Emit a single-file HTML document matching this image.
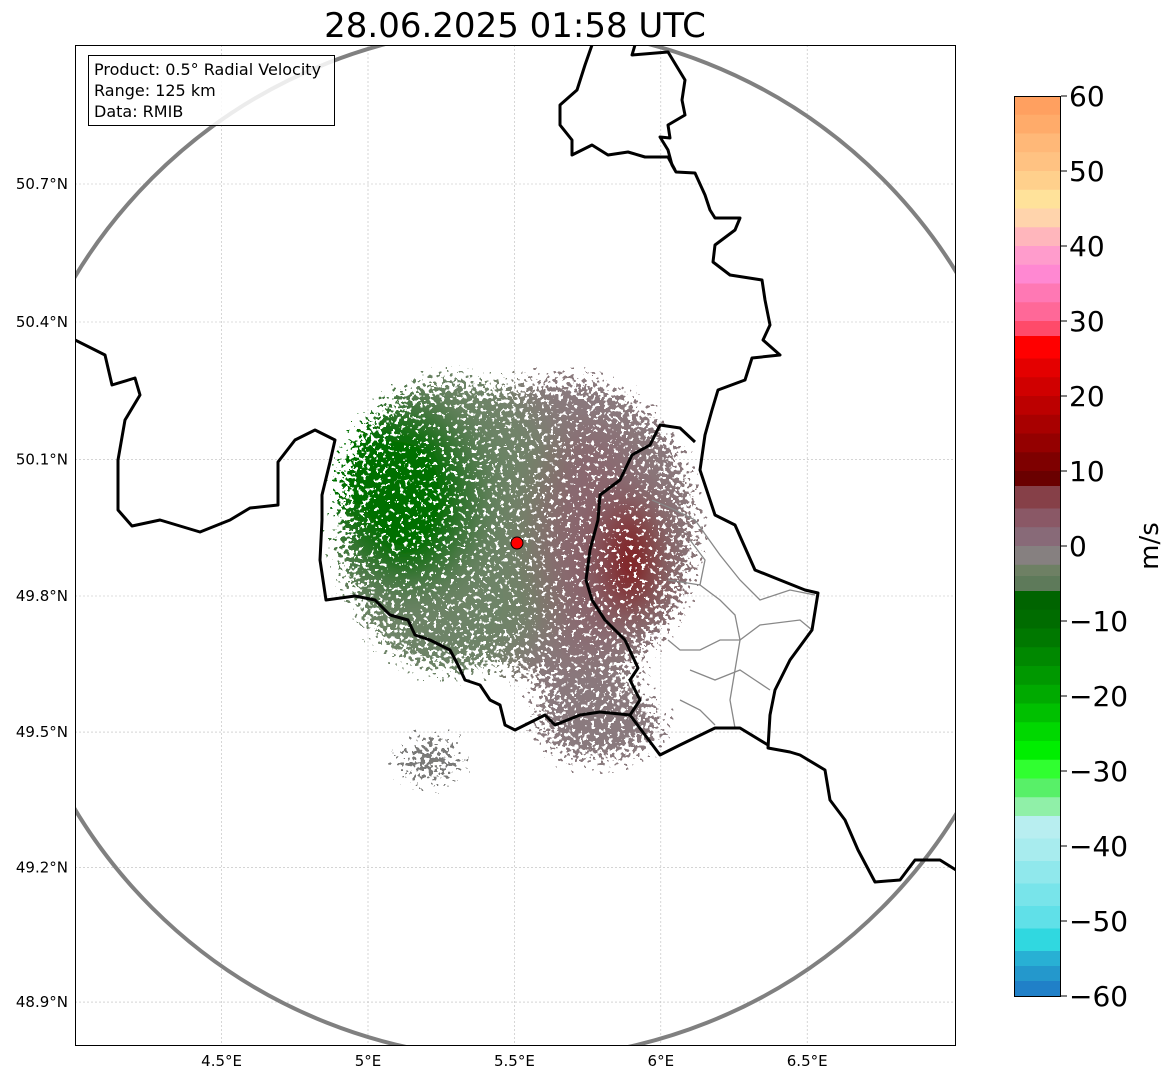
<!DOCTYPE html>
<html><head><meta charset="utf-8">
<style>
html,body{margin:0;padding:0;background:#fff;}
body{width:1171px;height:1081px;overflow:hidden;font-family:"DejaVu Sans","Liberation Sans",sans-serif;}
svg text{font-family:"DejaVu Sans","Liberation Sans",sans-serif;}
</style></head>
<body>
<svg id="chart" width="1171" height="1081" viewBox="0 0 1171 1081" xmlns="http://www.w3.org/2000/svg">
<defs>
<clipPath id="plotclip"><rect x="75" y="45" width="881" height="1001"/></clipPath>
<filter id="speck" x="-30%" y="-30%" width="160%" height="160%">
<feGaussianBlur in="SourceGraphic" stdDeviation="20" result="b"/>
<feTurbulence type="fractalNoise" baseFrequency="0.24" numOctaves="2" seed="7" result="t"/>
<feColorMatrix in="t" type="matrix" values="0 0 0 0 0  0 0 0 0 0  0 0 0 0 0  1.8 0 0 0 -0.4" result="na"/>
<feComposite in="b" in2="na" operator="arithmetic" k2="1.1" k3="-0.95" k4="0.12" result="d"/>
<feComponentTransfer in="d" result="mask"><feFuncA type="discrete" tableValues="0 1"/></feComponentTransfer>
<feComponentTransfer in="b" result="col"><feFuncA type="table" tableValues="1 1"/></feComponentTransfer>
<feComposite in="col" in2="mask" operator="in"/>
</filter>
</defs>
<text x="515" y="37" font-size="34" text-anchor="middle" fill="#000">28.06.2025 01:58 UTC</text>
<g id="grid"></g>
<g clip-path="url(#plotclip)">
<g id="echoes" filter="url(#speck)">
<ellipse cx="600" cy="725" rx="75" ry="45" fill="#8a7a7e"/>
<ellipse cx="430" cy="760" rx="45" ry="30" fill="#7a7a78"/>
<ellipse cx="565" cy="530" rx="140" ry="160" fill="#8a787c"/>
<ellipse cx="450" cy="525" rx="120" ry="155" fill="#6e8468"/>
<ellipse cx="590" cy="410" rx="55" ry="30" fill="#8a7a7e"/>
<ellipse cx="405" cy="495" rx="75" ry="95" fill="#007000"/>
<ellipse cx="590" cy="540" rx="55" ry="115" fill="#8a6870"/>
<ellipse cx="632" cy="560" rx="30" ry="60" fill="#800000"/>
</g>
<circle cx="517" cy="543" r="516" fill="none" stroke="#808080" stroke-width="4"/>
<g fill="none" stroke="#888" stroke-width="1.3">
<polyline points="652,500 675,510 695,520 720,555 740,580 760,600 790,590 815,595"/>
<polyline points="668,580 700,585 720,600 735,615 740,640 760,625 800,620 812,630"/>
<polyline points="668,640 680,650 700,650 720,640 740,640"/>
<polyline points="690,670 715,680 740,670 755,680 770,690"/>
<polyline points="680,700 700,710 715,725"/>
<polyline points="740,640 735,670 730,700 735,728"/>
<polyline points="700,585 705,560 690,540"/>
</g>
<g fill="none" stroke="#000" stroke-width="3" stroke-linejoin="round">
<polyline points="592,45 585,65 577,90 560,105 560,125 572,140 572,155 592,145 608,155 628,152 645,157 668,157 675,170"/>
<polyline points="635,45 632,55 668,52 685,80 682,100 685,115 668,125 670,138 660,137 668,150 672,165 676,172 695,173 705,195 710,210 715,218 740,218 735,230 715,245 713,262 730,275 762,280 765,300 770,325 763,340 780,355 752,358 745,380 718,390 712,410 705,435 700,470 715,515 735,525 755,570 780,580 805,590 818,593 812,630 790,660 775,690 770,715 768,748 790,752 800,755 825,770 830,800 845,820 858,850 875,882 900,880 915,860 940,860 956,870"/>
<polyline points="695,442 680,428 660,425 650,445 632,455 620,480 600,495 598,520 590,550 586,580 592,600 605,620 625,640 638,668 630,680 640,700 630,715 645,735 660,755 680,745 715,728 740,728 768,745"/>
<polyline points="630,715 600,712 580,715 555,725 545,715 515,730 505,725 500,705 490,700 480,685 465,680 458,665 450,650 430,640 415,635 408,620 390,615 375,600 355,596 326,600 320,560 322,520 322,495 330,462 335,440 315,430 295,440 278,462 278,505 250,508 230,520 200,532 160,520 132,526 118,510 118,460 125,420 140,395 135,378 112,385 105,355 75,340"/>
</g>
<circle cx="517" cy="543" r="6" fill="#ff0000" stroke="#000" stroke-width="1"/>
</g>
<rect x="75.5" y="45.5" width="880" height="1000" fill="none" stroke="#000" stroke-width="1"/>
<g>
<rect x="88.5" y="55.5" width="246" height="70" fill="#fff" fill-opacity="0.85" stroke="#000" stroke-width="1"/>
<text x="94" y="75" font-size="16">Product: 0.5° Radial Velocity</text>
<text x="94" y="96" font-size="16">Range: 125 km</text>
<text x="94" y="117" font-size="16">Data: RMIB</text>
</g>
<g id="xticks"></g>
<g id="yticks"></g>
<g id="cbar"></g>
<text transform="translate(1158,546) rotate(-90)" font-size="26" text-anchor="middle">m/s</text>
</svg>
<script>
const lonTicks=[4.5,5,5.5,6,6.5];
const lonLabels=["4.5°E","5°E","5.5°E","6°E","6.5°E"];
const latTicks=[50.7,50.4,50.1,49.8,49.5,49.2,48.9];
const latLabels=["50.7°N","50.4°N","50.1°N","49.8°N","49.5°N","49.2°N","48.9°N"];
const cbTicks=[60,50,40,30,20,10,0,-10,-20,-30,-40,-50,-60];
const cbBandTops=[60,57.5,55,52.5,50,47.5,45,42.5,40,37.5,35,32.5,30,28,25,22.5,20,17.5,15,12.5,10,8,5,2.5,0,-2.5,-4,-6,-8.5,-11,-13.5,-16,-18.5,-21,-23.5,-26,-28.5,-31,-33.5,-36,-39,-42,-45,-48,-51,-54,-56,-58];
const cbBandBottoms=[57.5,55,52.5,50,47.5,45,42.5,40,37.5,35,32.5,30,28,25,22.5,20,17.5,15,12.5,10,8,5,2.5,0,-2.5,-4,-6,-8.5,-11,-13.5,-16,-18.5,-21,-23.5,-26,-28.5,-31,-33.5,-36,-39,-42,-45,-48,-51,-54,-56,-58,-60];
const cbColors=["#ffa060","#ffab6a","#ffb878","#ffc282","#ffd08c","#ffe29a","#ffd4ac","#ffb6bc","#ff9ccc","#ff88d2","#ff78b4","#ff6898","#ff4a6a","#ff0000","#e40000","#d00000","#bc0000","#a80000","#940000","#7e0000","#6a0000","#864048","#8a5866","#886a78","#868080","#6e8064","#5e7a5a","#006400","#006c00","#007800","#008800","#009800","#00aa00","#00c000","#00d800","#00ee00","#30ff30","#58f068","#90f0a8","#b8eef0","#a8ecee","#90e8ec","#78e4ea","#60e0e8","#30d8e0","#28b0d4","#2498cc","#2080c8"];
const NS="http://www.w3.org/2000/svg";
const X0=75,X1=956,Y0=45,Y1=1046;
function xLon(l){return 368+(l-5)*292.8;}
function yLat(a){const d=a-49.8;return 596-d*454.5*(1+d*0.008);}
const CB={x:1014,w:47,top:96,bot:996,vmax:60,vmin:-60};
function yCb(v){return CB.top+(CB.vmax-v)/(CB.vmax-CB.vmin)*(CB.bot-CB.top);}
function mk(tag,attrs,parent){const e=document.createElementNS(NS,tag);for(const k in attrs)e.setAttribute(k,attrs[k]);parent.appendChild(e);return e;}
const grid=document.getElementById('grid');
const xt=document.getElementById('xticks');
const yt=document.getElementById('yticks');
lonTicks.forEach((l,i)=>{
 const x=xLon(l);
 const g=mk('line',{x1:x,x2:x,y1:Y0,y2:Y1,stroke:'#bbb','stroke-width':0.6,'stroke-dasharray':'2,2'},grid);
 
 
 const t=mk('text',{x:x,y:1066,'font-size':15,'text-anchor':'middle'},xt);
 
 
 t.textContent=lonLabels[i];
});
latTicks.forEach((a,i)=>{
 const y=yLat(a);
 const g=mk('line',{x1:X0,x2:X1,y1:y,y2:y,stroke:'#bbb','stroke-width':0.6,'stroke-dasharray':'2,2'},grid);
 
 
 const t=mk('text',{x:68,y:y+5,'font-size':15,'text-anchor':'end'},yt);
 
 
 t.textContent=latLabels[i];
});
const cb=document.getElementById('cbar');
cbBandTops.forEach((v,i)=>{
 const y0=yCb(v),y1=yCb(cbBandBottoms[i]);
 const r=mk('rect',{x:CB.x,y:y0,width:CB.w,height:y1-y0+0.5,fill:cbColors[i]},cb);
 
 
});
const fr=mk('rect',{x:CB.x+0.5,y:CB.top+0.5,width:CB.w-1,height:CB.bot-CB.top,fill:'none',stroke:'#000','stroke-width':1},cb);


cbTicks.forEach(v=>{
 const y=yCb(v);
 const l=mk('line',{x1:CB.x+CB.w,x2:CB.x+CB.w+6,y1:y,y2:y,stroke:'#000','stroke-width':1},cb);
 
 
 const t=mk('text',{x:CB.x+CB.w+8,y:y+10,'font-size':28},cb);
 
 
 t.textContent=(v<0?'\u2212'+(-v):String(v));
});
</script>
</body></html>
